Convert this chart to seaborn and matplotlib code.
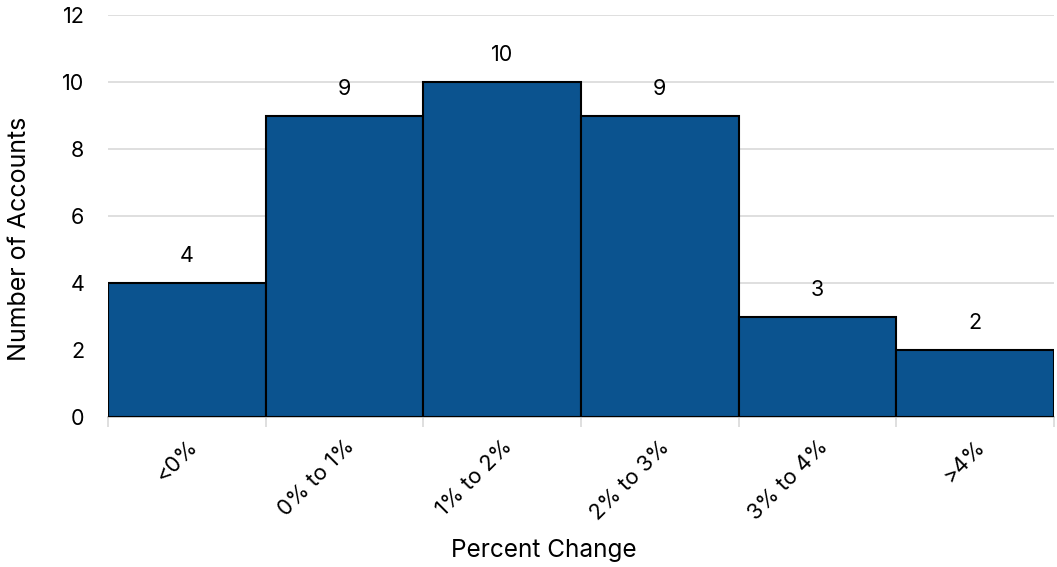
import matplotlib
matplotlib.use("Agg")
import matplotlib.pyplot as plt
import seaborn as sns
import pandas as pd
import numpy as np

categories = ["<0%", "0% to 1%", "1% to 2%", "2% to 3%", "3% to 4%", ">4%"]
counts = [4, 9, 10, 9, 3, 2]

sns.set_theme(style="white")
plt.rcParams['font.family'] = ['Inter', 'DejaVu Sans']
plt.rcParams['text.color'] = 'black'
plt.rcParams['axes.labelcolor'] = 'black'
plt.rcParams['xtick.color'] = 'black'
plt.rcParams['ytick.color'] = 'black'

df = pd.DataFrame({"cat": categories, "count": counts})

fig = plt.figure(figsize=(10.57, 5.67), dpi=100)
ax = fig.add_axes([108/1057, 150/567, (1054-108)/1057, (552-150)/567])

sns.barplot(data=df, x="cat", y="count", color="#0B538F", saturation=1,
            width=1.0, edgecolor="black", linewidth=1.5, ax=ax, zorder=3)

ax.set_xlim(-0.5, len(categories) - 0.5)
ax.set_ylim(0, 12)
ax.set_yticks(np.arange(0, 13, 2))
ax.yaxis.grid(True, color="#d9d9d9", linewidth=1.2, zorder=0)
ax.set_axisbelow(True)

for s in ["top", "right", "left"]:
    ax.spines[s].set_visible(False)
ax.spines["bottom"].set_color("#bfbfbf")
ax.spines["bottom"].set_linewidth(1.2)

for i, v in enumerate(counts):
    ax.text(i, v + 0.5, str(v), ha="center", va="bottom", fontsize=15.5, color="black")

ax.set_xticks(np.arange(len(categories)))
ax.set_xticklabels(categories, rotation=45, ha="right", rotation_mode="anchor", fontsize=15.8)
ax.tick_params(axis="x", which="major", length=0, pad=14, colors="black")
ax.set_xticks(np.arange(-0.5, len(categories)), minor=True)
ax.tick_params(axis="x", which="minor", bottom=True, length=7, color="#d9d9d9", width=1.2)
ax.tick_params(axis="y", length=0, labelsize=15.5, pad=17, colors="black")

ax.set_xlabel("Percent Change", fontsize=17.5, color="black")
ax.xaxis.set_label_coords(0.461, -0.331)
ax.xaxis.label.set_va("center")
ax.set_ylabel("Number of Accounts", fontsize=18, color="black")
ax.yaxis.set_label_coords(-0.094, 0.443)
ax.yaxis.label.set_va("center")

fig.savefig("out.png", dpi=100)
